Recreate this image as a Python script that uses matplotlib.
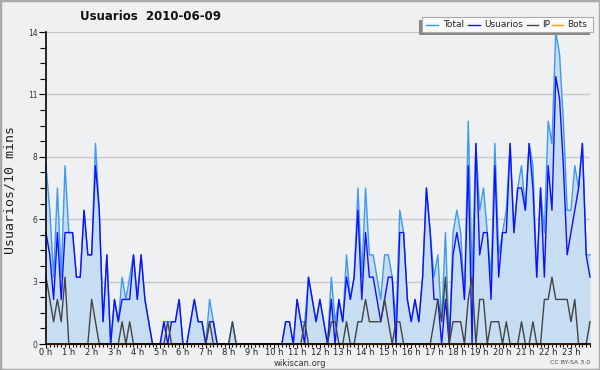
import numpy as np
import matplotlib
matplotlib.use("Agg")
import matplotlib.pyplot as plt
from matplotlib.patches import Rectangle
from matplotlib.lines import Line2D

# 10-minute slots, 144 per day
usuarios = [5,4,2,5,2,5,5,5,3,3,6,4,4,8,6,1,4,0,2,1,2,2,2,4,2,4,2,1,0,0,
            0,1,0,1,1,2,0,0,1,2,1,1,0,1,1,0,0,0,0,0,0,0,0,0,0,0,0,0,0,0,
            0,0,0,1,1,0,2,1,0,3,2,1,2,1,0,2,0,2,1,3,2,3,6,2,5,3,3,2,1,2,
            3,3,0,5,5,2,1,2,1,3,7,5,2,2,0,2,0,4,5,4,2,8,0,9,4,5,5,2,8,3,
            5,5,9,5,7,7,6,9,7,3,7,3,8,6,12,11,8,4,5,6,7,9,4,3]
ip = [3,2,1,2,1,3,0,0,0,0,0,0,2,1,0,0,0,0,0,0,1,0,1,0,0,0,0,0,0,0,
      0,0,1,0,0,0,0,0,0,0,0,0,0,1,0,0,0,0,0,1,0,0,0,0,0,0,0,0,0,0,
      0,0,0,0,0,0,0,0,1,0,0,0,0,0,0,1,1,0,0,1,0,0,1,1,2,1,1,1,1,2,
      1,0,1,1,0,0,0,0,0,0,0,0,1,2,1,3,0,1,1,1,0,2,3,0,2,2,0,1,1,1,
      0,1,0,0,0,1,0,0,1,0,0,2,2,3,2,2,2,2,1,2,0,0,0,1]
total = [8,6,3,7,3,8,5,5,3,3,6,4,4,9,6,1,4,0,2,1,3,2,3,4,2,4,2,1,0,0,
         0,1,1,1,1,2,0,0,1,2,1,1,0,2,1,0,0,0,0,1,0,0,0,0,0,0,0,0,0,0,
         0,0,0,1,1,0,2,1,1,3,2,1,2,1,0,3,1,2,1,4,2,3,7,3,7,4,4,3,2,4,
         4,3,1,6,5,2,1,2,1,3,7,5,3,4,1,5,0,5,6,5,2,10,3,9,6,7,5,3,9,4,
         5,6,9,5,7,8,6,9,8,3,7,5,10,9,14,13,10,6,6,8,7,9,4,4]
bots = [0] * 144
hour_labels = [f"{h} h" for h in range(24)]
ytick_labels = ["0", "3", "6", "8", "11", "14"]

BG = "#eff0f2"
fig = plt.figure(figsize=(6, 3.7), dpi=100, facecolor=BG)

def fx(x):
    return x / 600.0

def fy(y):
    return 1 - y / 370.0

ax = fig.add_axes([fx(46), fy(344), 544 / 600, 312 / 370])
ax.set_facecolor(BG)
x = np.arange(len(total))

ax.fill_between(x, 0, total, color="#c6ddf2", lw=0, zorder=1)
ax.plot(x, bots, color="#ff9900", lw=1.0, zorder=1.5, clip_on=False)
ax.plot(x, total, color="#3d9af0", lw=1.0, zorder=3, clip_on=False)
ax.plot(x, usuarios, color="#1010ff", lw=1.0, zorder=4, clip_on=False)
ax.plot(x, ip, color="#444444", lw=1.0, zorder=5, clip_on=False)

ax.set_xlim(0, 143)
ax.set_ylim(0, 14)
ax.set_yticks(np.linspace(0, 14, 6))
ax.set_yticklabels(ytick_labels, fontsize=5.5, color="#333333")
ax.set_yticks(np.arange(0, 14.01, 0.7), minor=True)
ax.set_xticks(np.arange(0, 144, 6))
ax.set_xticklabels(hour_labels, fontsize=6, color="#222222")
ax.set_xticks(np.arange(0, 144, 1), minor=True)
ax.tick_params(axis="y", which="major", direction="out", length=5, width=0.8, pad=1)
ax.tick_params(axis="y", which="minor", direction="out", length=4, width=0.8)
ax.tick_params(axis="x", which="major", direction="out", length=3, width=0.8, pad=0)
ax.tick_params(axis="x", which="minor", direction="out", length=2.5, width=0.8)

for s in ("top", "right"):
    ax.spines[s].set_visible(False)
for s in ("left", "bottom"):
    ax.spines[s].set_color("black")
    ax.spines[s].set_linewidth(1.2)
    ax.spines[s].set_zorder(6)
ax.yaxis.grid(True, which="major", color="#c8c8c8", lw=1.0)
ax.set_axisbelow(True)

fig.text(fx(10), fy(190), "Usuarios/10 mins", family="DejaVu Sans Mono",
         fontsize=9.5, color="#222222", rotation=90, ha="center", va="center")

fig.text(fx(151), fy(16), "Usuarios  2010-06-09", ha="center", va="center",
         fontsize=8.5, fontweight="bold", color="#111111")
fig.text(fx(300), fy(363), "wikiscan.org", ha="center", va="center",
         fontsize=6, color="#333333")
fig.text(fx(590), fy(363), "CC BY-SA 3.0", ha="right", va="center",
         fontsize=4.5, color="#444444")

# legend (manual, with shadow offset left/down)
fig.add_artist(Rectangle((fx(419), fy(35)), fx(171), 15 / 370,
                         transform=fig.transFigure, facecolor="#888888",
                         edgecolor="none", zorder=10))
fig.add_artist(Rectangle((fx(422), fy(32)), fx(171), 15 / 370,
                         transform=fig.transFigure, facecolor="#fafafa",
                         edgecolor="#aaaaaa", lw=0.8, zorder=11))
entries = [("Total", "#3d9af0", 426, 438, 443),
           ("Usuarios", "#1010ff", 468, 480, 484),
           ("IP", "#444444", 527, 538, 542),
           ("Bots", "#ff9900", 552, 563, 567)]
for label, col, x0, x1, tx in entries:
    fig.add_artist(Line2D([fx(x0), fx(x1)], [fy(24.5), fy(24.5)],
                          transform=fig.transFigure, color=col, lw=1.0, zorder=12))
    fig.text(fx(tx), fy(24.5), label, ha="left", va="center", fontsize=6.5,
             color="#222222", zorder=12)

fig.add_artist(Rectangle((0, 0), 1, 1, transform=fig.transFigure, fill=False,
                         edgecolor="#aaaaaa", lw=2.5, zorder=20))

fig.savefig("out.png", dpi=100, facecolor=BG)
